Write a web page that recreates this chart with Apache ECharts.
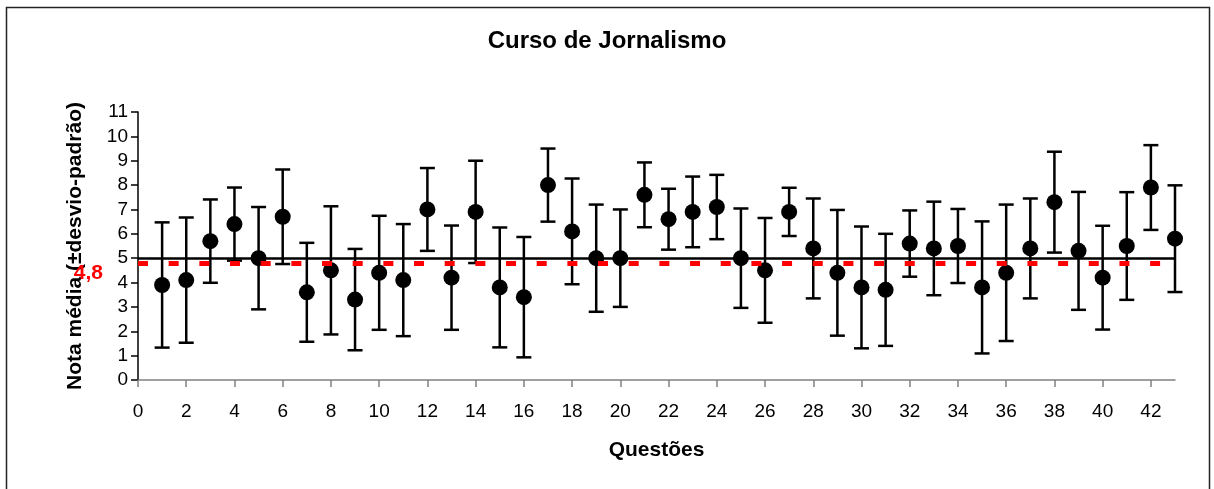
<!DOCTYPE html>
<html>
<head>
<meta charset="utf-8">
<title>Curso de Jornalismo</title>
<script src="https://cdn.jsdelivr.net/npm/echarts@6/dist/echarts.min.js"></script>
<style>
  html, body { margin: 0; padding: 0; background: #fff; }
  #chart { width: 1214px; height: 489px; }
</style>
</head>
<body>
<div id="chart"></div>
<script>
// questões 1..43, nota média e desvio-padrão
var questoes = [];
for (var q = 1; q <= 43; q++) questoes.push(q);

var medias = [3.9, 4.1, 5.7, 6.4, 5.0, 6.7, 3.6, 4.5, 3.3, 4.4, 4.1, 7.0, 4.2, 6.9, 3.8,
              3.4, 8.0, 6.1, 5.0, 5.0, 7.6, 6.6, 6.9, 7.1, 5.0, 4.5, 6.9, 5.4, 4.4, 3.8,
              3.7, 5.6, 5.4, 5.5, 3.8, 4.4, 5.4, 7.3, 5.3, 4.2, 5.5, 7.9, 5.8];

var desvios = [2.57, 2.57, 1.71, 1.5, 2.1, 1.94, 2.03, 2.63, 2.08, 2.34, 2.3, 1.7, 2.14, 2.1, 2.46,
               2.47, 1.5, 2.17, 2.2, 2.0, 1.33, 1.25, 1.45, 1.32, 2.04, 2.15, 0.99, 2.05, 2.58, 2.5,
               2.3, 1.36, 1.92, 1.52, 2.71, 2.8, 2.05, 2.07, 2.42, 2.13, 2.21, 1.74, 2.19];

// marcas do eixo x (só os pares, sem o 43)
var ticksX = [0, 2, 4, 6, 8, 10, 12, 14, 16, 18, 20, 22, 24, 26, 28, 30, 32, 34, 36, 38, 40, 42];

var referencia = 5;     // linha preta
var mediaGeral = 4.8;   // linha vermelha tracejada
var rotuloMedia = '4,8';

var fonte = '"Liberation Sans", Arial, sans-serif';

var pontos = [];
var barras = [];
for (var i = 0; i < questoes.length; i++) {
    pontos.push([questoes[i], medias[i]]);
    barras.push([questoes[i], medias[i] - desvios[i], medias[i] + desvios[i]]);
}

function renderErro(params, api) {
    var x = api.value(0);
    var baixo = api.coord([x, api.value(1)]);
    var alto = api.coord([x, api.value(2)]);
    var meia = 7.5;
    var estilo = { stroke: '#000', lineWidth: 2.5 };
    return {
        type: 'group',
        children: [
            { type: 'line', shape: { x1: baixo[0], y1: baixo[1], x2: alto[0], y2: alto[1] }, style: estilo },
            { type: 'line', shape: { x1: alto[0] - meia, y1: alto[1], x2: alto[0] + meia, y2: alto[1] }, style: estilo },
            { type: 'line', shape: { x1: baixo[0] - meia, y1: baixo[1], x2: baixo[0] + meia, y2: baixo[1] }, style: estilo }
        ]
    };
}

var chart = echarts.init(document.getElementById('chart'));

var option = {
    animation: false,
    backgroundColor: '#fff',
    textStyle: { fontFamily: fonte },
    title: {
        text: 'Curso de Jornalismo',
        left: 'center',
        top: 24,
        textStyle: { fontFamily: fonte, fontSize: 24, fontWeight: 'bold', color: '#000' }
    },
    graphic: [{
        type: 'rect',
        shape: { x: 6.5, y: 7.5, width: 1203, height: 490 },
        style: { fill: null, stroke: '#222', lineWidth: 1.5 },
        silent: true
    }],
    grid: { left: 138, right: 39, top: 112, bottom: 109 },
    xAxis: {
        type: 'value',
        min: 0,
        max: 43,
        interval: 2,
        name: 'Questões',
        nameLocation: 'middle',
        nameGap: 60,
        nameTextStyle: { fontFamily: fonte, fontSize: 21, fontWeight: 'bold', color: '#000' },
        axisLine: { show: true, onZero: false, lineStyle: { color: '#808080', width: 1.5 } },
        axisTick: { show: true, inside: false, length: 7, customValues: ticksX, lineStyle: { color: '#808080', width: 1.5 } },
        axisLabel: { fontFamily: fonte, fontSize: 19, color: '#000', margin: 22, customValues: ticksX },
        splitLine: { show: false }
    },
    yAxis: {
        type: 'value',
        min: 0,
        max: 11,
        interval: 1,
        name: 'Nota média (±desvio-padrão)',
        nameLocation: 'middle',
        nameGap: 52,
        nameTextStyle: { fontFamily: fonte, fontSize: 21, fontWeight: 'bold', color: '#000' },
        axisLine: { show: true, lineStyle: { color: '#000', width: 1.5 } },
        axisTick: { show: true, inside: false, length: 7, lineStyle: { color: '#000', width: 1.5 } },
        axisLabel: { fontFamily: fonte, fontSize: 19, color: '#000', margin: 10 },
        splitLine: { show: false }
    },
    series: [
        {
            type: 'line',
            data: [],
            z: 1,
            markLine: {
                silent: true,
                symbol: ['none', 'none'],
                data: [
                    {
                        yAxis: mediaGeral,
                        lineStyle: { color: '#ff0000', width: 5, type: [10, 20.67] },
                        label: {
                            show: true,
                            position: 'start',
                            formatter: rotuloMedia,
                            distance: 35,
                            verticalAlign: 'top',
                            color: '#ff0000',
                            fontFamily: fonte,
                            fontSize: 21,
                            fontWeight: 'bold'
                        }
                    },
                    {
                        yAxis: referencia,
                        lineStyle: { color: '#000', width: 2.5, type: 'solid' },
                        label: { show: false }
                    }
                ]
            }
        },
        {
            type: 'custom',
            renderItem: renderErro,
            data: barras,
            encode: { x: 0, y: [1, 2] },
            z: 3
        },
        {
            type: 'scatter',
            data: pontos,
            symbol: 'circle',
            symbolSize: 16,
            itemStyle: { color: '#000', opacity: 1 },
            z: 4
        }
    ]
};

chart.setOption(option);
</script>
</body>
</html>
